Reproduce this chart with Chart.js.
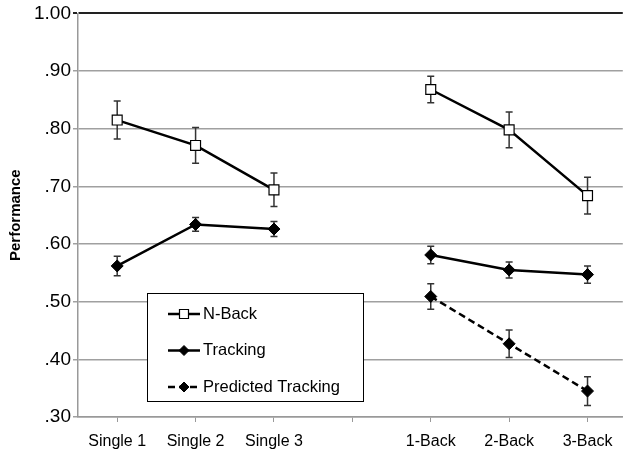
<!DOCTYPE html>
<html>
<head>
<meta charset="utf-8">
<script src="https://cdn.jsdelivr.net/npm/chart.js@4/dist/chart.umd.min.js"></script>
<style>
  html, body { margin: 0; padding: 0; background: #fff; }
  #wrap { width: 631px; height: 455px; }
</style>
</head>
<body>
<div id="wrap"><canvas id="chart" width="631" height="455"></canvas></div>
<script>
const categories = ["Single 1", "Single 2", "Single 3", "", "1-Back", "2-Back", "3-Back"];
const nBack = [0.815, 0.771, 0.694, null, 0.868, 0.798, 0.684];
const nBackErr = [0.033, 0.031, 0.029, null, 0.023, 0.031, 0.032];
const tracking = [0.562, 0.634, 0.626, null, 0.581, 0.555, 0.547];
const trackingErr = [0.017, 0.012, 0.013, null, 0.015, 0.014, 0.015];
const predicted = [null, null, null, null, 0.509, 0.427, 0.345];
const predictedErr = [null, null, null, null, 0.022, 0.024, 0.025];

const FONT = "'Liberation Sans', Arial, Helvetica, sans-serif";

function points(values) {
  return values.map((v, i) => ({ x: i + 1, y: v }));
}

// error bars drawn under the markers
const errorBars = {
  id: "errorBars",
  beforeDatasetsDraw(chart) {
    const ctx = chart.ctx;
    const xs = chart.scales.x, ys = chart.scales.y;
    ctx.save();
    ctx.strokeStyle = "#333";
    ctx.lineWidth = 1.5;
    chart.data.datasets.forEach(ds => {
      ds.data.forEach((p, i) => {
        const e = ds.errors[i];
        if (p.y == null || e == null) return;
        const x = xs.getPixelForValue(p.x);
        const top = ys.getPixelForValue(p.y + e);
        const bot = ys.getPixelForValue(p.y - e);
        ctx.beginPath();
        ctx.moveTo(x, top); ctx.lineTo(x, bot);
        ctx.moveTo(x - 3.5, top); ctx.lineTo(x + 3.5, top);
        ctx.moveTo(x - 3.5, bot); ctx.lineTo(x + 3.5, bot);
        ctx.stroke();
      });
    });
    ctx.restore();
  }
};

// boxed legend inside the plot, like the original
const boxLegend = {
  id: "boxLegend",
  afterDraw(chart) {
    const ctx = chart.ctx;
    const left = 147, top = 293, w = 216, h = 108;
    ctx.save();
    ctx.fillStyle = "#fff";
    ctx.fillRect(left, top, w, h);
    ctx.strokeStyle = "#000";
    ctx.lineWidth = 1;
    ctx.strokeRect(left + 0.5, top + 0.5, w, h);
    ctx.font = "16.5px " + FONT;
    ctx.textBaseline = "middle";
    chart.data.datasets.forEach((ds, i) => {
      const y = 314 + i * 36.5;
      ctx.strokeStyle = ds.borderColor;
      ctx.lineWidth = 2.5;
      ctx.setLineDash(ds.borderDash || []);
      ctx.beginPath();
      ctx.moveTo(168, y); ctx.lineTo(200, y);
      ctx.stroke();
      ctx.setLineDash([]);
      ctx.fillStyle = ds.pointBackgroundColor;
      ctx.strokeStyle = "#000";
      ctx.lineWidth = ds.pointBorderWidth;
      ctx.beginPath();
      if (ds.pointStyle === "rect") {
        ctx.rect(179.5, y - 4.5, 9, 9);
      } else {
        ctx.moveTo(184, y - 5); ctx.lineTo(189, y); ctx.lineTo(184, y + 5); ctx.lineTo(179, y);
        ctx.closePath();
      }
      ctx.fill(); ctx.stroke();
      ctx.fillStyle = "#000";
      ctx.fillText(ds.label, 203, y);
    });
    ctx.restore();
  }
};

new Chart(document.getElementById("chart"), {
  type: "line",
  data: {
    datasets: [
      {
        label: "N-Back", data: points(nBack), errors: nBackErr,
        borderColor: "#000", borderWidth: 2.5,
        pointStyle: "rect", pointRadius: 7, pointBackgroundColor: "#fff",
        pointBorderColor: "#000", pointBorderWidth: 1.2
      },
      {
        label: "Tracking", data: points(tracking), errors: trackingErr,
        borderColor: "#000", borderWidth: 2.5,
        pointStyle: "rectRot", pointRadius: 6, pointBackgroundColor: "#000",
        pointBorderColor: "#000", pointBorderWidth: 1
      },
      {
        label: "Predicted Tracking", data: points(predicted), errors: predictedErr,
        borderColor: "#000", borderWidth: 2.5, borderDash: [7, 4],
        pointStyle: "rectRot", pointRadius: 6, pointBackgroundColor: "#000",
        pointBorderColor: "#000", pointBorderWidth: 1
      }
    ]
  },
  options: {
    responsive: false,
    animation: false,
    spanGaps: false,
    layout: { padding: { top: 11, right: 0, left: 0, bottom: 0 } },
    plugins: { legend: { display: false }, tooltip: { enabled: false } },
    scales: {
      x: {
        type: "linear", min: 0.5, max: 7.45,
        afterBuildTicks: s => { s.ticks = categories.map((c, i) => ({ value: i + 1 })); },
        afterFit: s => { s.height = 38; },
        grid: { drawOnChartArea: false, drawTicks: true, tickLength: 5, color: "#999" },
        border: { color: "#999", width: 1.5 },
        ticks: {
          padding: 10, color: "#000", maxRotation: 0, autoSkip: false,
          font: { family: FONT, size: 16 },
          callback: v => categories[v - 1]
        }
      },
      y: {
        min: 0.3, max: 1.0,
        afterFit: s => { s.width = 78; },
        grid: {
          tickLength: 5,
          color: c => (c.tick && c.tick.value === 1 ? "#222" : "#a0a0a0"),
          lineWidth: c => (c.tick && c.tick.value === 1 ? 2 : 1.5)
        },
        border: { color: "#999", width: 1.5 },
        ticks: {
          stepSize: 0.1, padding: 2, color: "#000",
          font: { family: FONT, size: 19 },
          callback: v => (Math.abs(v - 1) < 1e-6 ? "1.00" : v.toFixed(2).replace(/^0/, ""))
        },
        title: {
          display: true, text: "Performance", color: "#000",
          font: { family: FONT, size: 15, weight: "bold" },
          padding: { top: 7, bottom: 0 }
        }
      }
    }
  },
  plugins: [errorBars, boxLegend]
});
</script>
</body>
</html>
